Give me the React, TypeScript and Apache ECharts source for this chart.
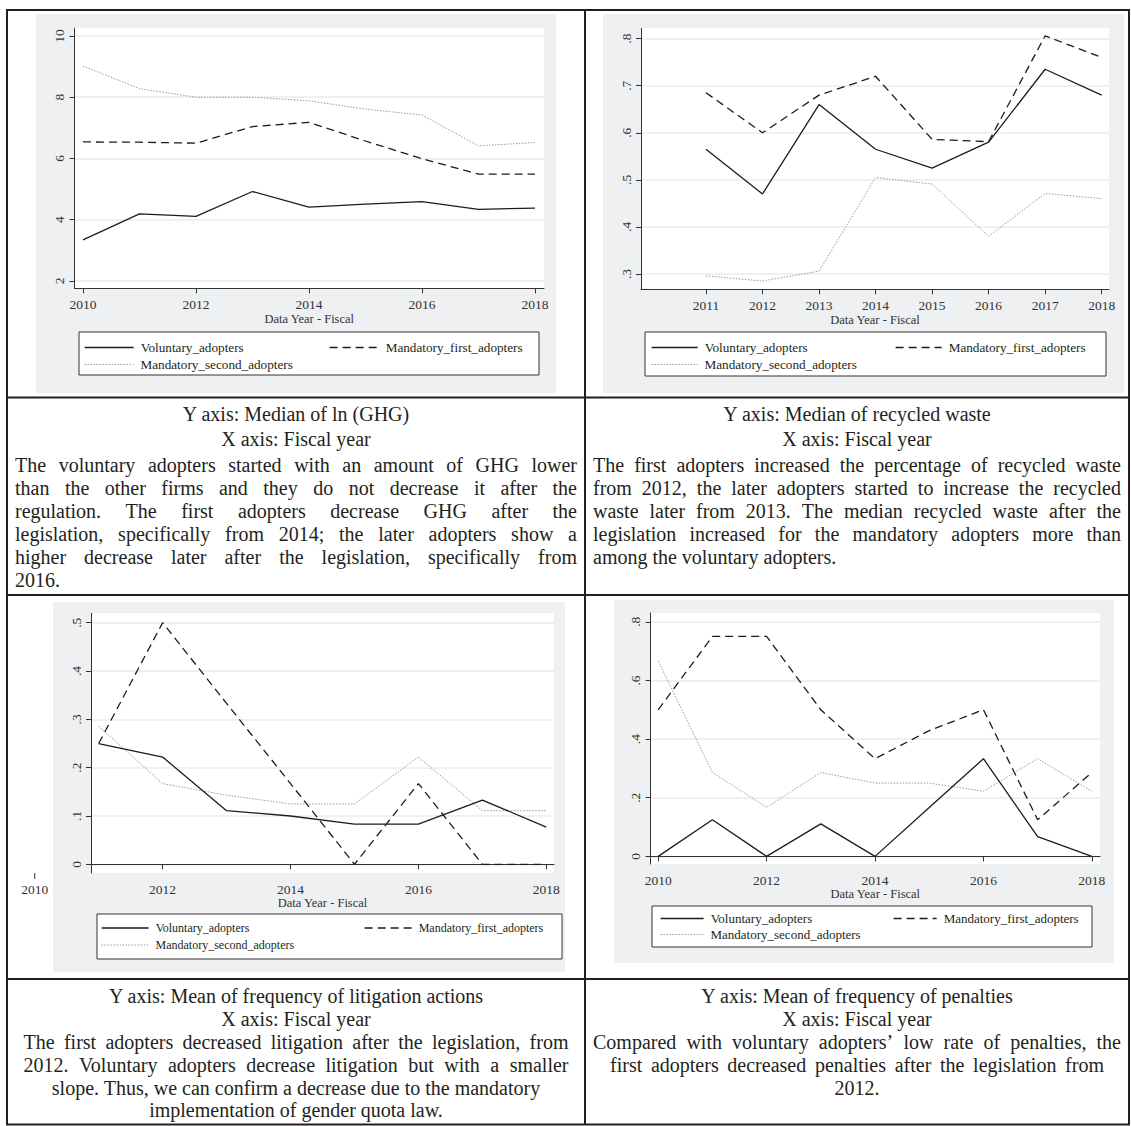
import React, { useEffect, useRef } from 'react';
import * as echarts from 'echarts';

// ---------- DATA ----------
const seriesNames = ['Voluntary_adopters', 'Mandatory_first_adopters', 'Mandatory_second_adopters'];
const xAxisTitle = 'Data Year - Fiscal';

// Panel 1: Median of ln (GHG)
const ghgYears = [2010, 2011, 2012, 2013, 2014, 2015, 2016, 2017, 2018];
const ghgVoluntary = [3.34, 4.19, 4.11, 4.92, 4.41, 4.51, 4.59, 4.34, 4.38];
const ghgFirst = [6.54, 6.53, 6.5, 7.04, 7.18, 6.57, 5.99, 5.49, 5.49];
const ghgSecond = [9.02, 8.28, 8.0, 8.0, 7.88, 7.61, 7.42, 6.41, 6.52];
const ghgYTicks = [2, 4, 6, 8, 10];
const ghgXTicks = [2010, 2012, 2014, 2016, 2018];

// Panel 2: Median of recycled waste
const wasteYears = [2011, 2012, 2013, 2014, 2015, 2016, 2017, 2018];
const wasteVoluntary = [0.565, 0.47, 0.66, 0.565, 0.525, 0.58, 0.735, 0.68];
const wasteFirst = [0.685, 0.6, 0.68, 0.72, 0.586, 0.581, 0.806, 0.76];
const wasteSecond = [0.296, 0.285, 0.306, 0.505, 0.491, 0.38, 0.471, 0.46];
const wasteYTicks = [0.3, 0.4, 0.5, 0.6, 0.7, 0.8];
const wasteXTicks = [2011, 2012, 2013, 2014, 2015, 2016, 2017, 2018];

// Panel 3: Mean of frequency of litigation actions
const litYears = [2011, 2012, 2013, 2014, 2015, 2016, 2017, 2018];
const litVoluntary = [0.25, 0.222, 0.111, 0.1, 0.083, 0.083, 0.133, 0.077];
const litFirst = [0.25, 0.5, 0.333, 0.167, 0, 0.167, 0, 0];
const litSecond = [0.286, 0.167, 0.143, 0.125, 0.125, 0.222, 0.111, 0.111];
const litYTicks = [0, 0.1, 0.2, 0.3, 0.4, 0.5];
const litXTicks = [2012, 2014, 2016, 2018];
const litStrayXLabel = 2010;

// Panel 4: Mean of frequency of penalties
const penYears = [2010, 2011, 2012, 2013, 2014, 2015, 2016, 2017, 2018];
const penVoluntary = [0, 0.125, 0, 0.111, 0, 0.167, 0.333, 0.067, 0];
const penFirst = [0.5, 0.75, 0.75, 0.5, 0.333, 0.429, 0.5, 0.125, 0.286];
const penSecond = [0.667, 0.286, 0.167, 0.286, 0.25, 0.25, 0.222, 0.333, 0.222];
const penYTicks = [0, 0.2, 0.4, 0.6, 0.8];
const penXTicks = [2010, 2012, 2014, 2016, 2018];

// Table texts
const ghgHeader = ['Y axis: Median of ln (GHG)', 'X axis: Fiscal year'];
const ghgText = [
  'The voluntary adopters started with an amount of GHG lower',
  'than the other firms and they do not decrease it after the',
  'regulation. The first adopters decrease GHG after the',
  'legislation, specifically from 2014; the later adopters show a',
  'higher decrease later after the legislation, specifically from',
  '2016.',
];
const wasteHeader = ['Y axis: Median of recycled waste', 'X axis: Fiscal year'];
const wasteText = [
  'The first adopters increased the percentage of recycled waste',
  'from 2012, the later adopters started to increase the recycled',
  'waste later from 2013. The median recycled waste after the',
  'legislation increased for the mandatory adopters more than',
  'among the voluntary adopters.',
];
const litHeader = ['Y axis: Mean of frequency of litigation actions', 'X axis: Fiscal year'];
const litText = [
  'The first adopters decreased litigation after the legislation, from',
  '2012. Voluntary adopters decrease litigation but with a smaller',
  'slope. Thus, we can confirm a decrease due to the mandatory',
  'implementation of gender quota law.',
];
const penHeader = ['Y axis: Mean of frequency of penalties', 'X axis: Fiscal year'];
const penText = [
  'Compared with voluntary adopters\u2019 low rate of penalties, the',
  'first adopters decreased penalties after the legislation from',
  '2012.',
];

// ---------- LAYOUT / STYLE ----------
const FAMILY = '"Liberation Serif", "Times New Roman", serif';
const INK = '#231f20';
const AXIS = '#333333';
const PANEL_BG = '#eef0f2';

const lineStyles: any[] = [
  { color: '#1c1c1c', width: 1.3, type: 'solid' },
  { color: '#1c1c1c', width: 1.3, type: [8, 5] },
  { color: '#9a9a9a', width: 1, type: [1.5, 1.5] },
];

const panels = [
  {
    years: ghgYears, values: [ghgVoluntary, ghgFirst, ghgSecond], xTicks: ghgXTicks, yTicks: ghgYTicks, intLabels: true,
    xMin: 2009.85, xMax: 2018.16, yMin: 1.76, yMax: 10.25,
    grid: { left: 74.5, top: 28.3, width: 469.5, height: 260 },
    bg: [36, 14, 520, 379],
    legend: { box: [79, 332, 460, 43], s1: 84, s2: 329, r1: 346, r2: 363, w: 49, fs: 13.2 },
    nameGap: 22.5,
  },
  {
    years: wasteYears, values: [wasteVoluntary, wasteFirst, wasteSecond], xTicks: wasteXTicks, yTicks: wasteYTicks, intLabels: false,
    xMin: 2009.85, xMax: 2018.13, yMin: 0.2674, yMax: 0.822,
    grid: { left: 641, top: 28.3, width: 468, height: 261 },
    bg: [603, 14, 521, 379],
    legend: { box: [645, 332, 461, 44], s1: 651, s2: 895, r1: 346, r2: 363, w: 46, fs: 13.2 },
    nameGap: 22.5,
  },
  {
    years: litYears, values: [litVoluntary, litFirst, litSecond], xTicks: litXTicks, yTicks: litYTicks, intLabels: false,
    xMin: 2010.88, xMax: 2018.12, yMin: -0.018, yMax: 0.5195,
    grid: { left: 91, top: 613.3, width: 463, height: 259.7 },
    bg: [53, 602, 512, 370],
    legend: { box: [97, 914, 465, 45], s1: 101, s2: 364, r1: 927, r2: 944, w: 47, fs: 12 },
    nameGap: 21.5,
  },
  {
    years: penYears, values: [penVoluntary, penFirst, penSecond], xTicks: penXTicks, yTicks: penYTicks, intLabels: false,
    xMin: 2009.86, xMax: 2018.15, yMin: -0.026, yMax: 0.83,
    grid: { left: 650.6, top: 613, width: 449.4, height: 251 },
    bg: [614, 600, 500, 363],
    legend: { box: [652, 906, 440, 41], s1: 660, s2: 893, r1: 917, r2: 933, w: 43, fs: 13 },
    nameGap: 21.5,
  },
];

const decimalLabel = (v: number) => {
  if (Math.abs(v) < 1e-9) return '0';
  const s = v.toFixed(1);
  return s.startsWith('0') ? s.slice(1) : s;
};

let measureCtx: CanvasRenderingContext2D | null = null;
function textWidth(s: string, size: number) {
  if (!measureCtx) measureCtx = document.createElement('canvas').getContext('2d');
  measureCtx!.font = `${size}px "Liberation Serif"`;
  return measureCtx!.measureText(s).width;
}

function textEl(text: string, x: number, y: number, size: number, align: string) {
  return {
    type: 'text',
    x,
    y,
    silent: true,
    z: 20,
    style: {
      text,
      font: `${size}px "Liberation Serif"`,
      fill: INK,
      textAlign: align,
      align,
      textVerticalAlign: 'middle',
      verticalAlign: 'middle',
    },
  };
}

// Spread the words of one line over [x0, x0 + width]
function justifiedLine(line: string, x0: number, width: number, y: number, size: number) {
  const words = line.split(' ');
  const widths = words.map((w) => textWidth(w, size));
  const total = widths.reduce((a, b) => a + b, 0);
  const gap = (width - total) / Math.max(1, words.length - 1);
  const els: any[] = [];
  let x = x0;
  words.forEach((w, k) => {
    els.push(textEl(w, x, y, size, 'left'));
    x += widths[k] + gap;
  });
  return els;
}

// Justified paragraph: every line but the last is stretched to full width
function justifiedParagraph(lines: string[], x0: number, width: number, yStart: number, lh: number, size: number) {
  const els: any[] = [];
  lines.forEach((line, i) => {
    const y = yStart + i * lh;
    if (i === lines.length - 1) els.push(textEl(line, x0, y, size, 'left'));
    else els.push(...justifiedLine(line, x0, width, y, size));
  });
  return els;
}

// Centred lines; a line given a spread width is stretched to that width around the centre
function centredLines(lines: string[], spread: (number | null)[], cx: number, ys: number[], size: number) {
  const els: any[] = [];
  lines.forEach((line, i) => {
    const y = ys[i];
    const w = spread[i];
    if (w && w > textWidth(line, size)) els.push(...justifiedLine(line, cx - w / 2, w, y, size));
    else els.push(textEl(line, cx, y, size, 'center'));
  });
  return els;
}

function buildOption() {
  const grid: any[] = [];
  const xAxis: any[] = [];
  const yAxis: any[] = [];
  const series: any[] = [];
  const legend: any[] = [];
  const graphic: any[] = [];

  panels.forEach((p, pi) => {
    grid.push({
      ...p.grid,
      show: true,
      backgroundColor: '#ffffff',
      borderWidth: 0,
      containLabel: false,
      outerBoundsMode: 'none',
    });
    xAxis.push({
      type: 'value',
      gridIndex: pi,
      min: p.xMin,
      max: p.xMax,
      axisLine: { show: true, lineStyle: { color: AXIS, width: 1 } },
      axisTick: { show: true, customValues: p.xTicks, length: 5, inside: false, lineStyle: { color: AXIS } },
      axisLabel: {
        customValues: p.xTicks,
        formatter: (v: number) => String(Math.round(v)),
        fontFamily: FAMILY,
        fontSize: 13.5,
        color: AXIS,
        margin: 9,
      },
      splitLine: { show: false },
      name: xAxisTitle,
      nameLocation: 'middle',
      nameGap: p.nameGap,
      nameTextStyle: { fontFamily: FAMILY, fontSize: 12.5, color: AXIS },
    });
    yAxis.push({
      type: 'value',
      gridIndex: pi,
      min: p.yMin,
      max: p.yMax,
      axisLine: { show: true, lineStyle: { color: AXIS, width: 1 } },
      axisTick: { show: true, customValues: p.yTicks, length: 5, inside: false, lineStyle: { color: AXIS } },
      axisLabel: {
        customValues: p.yTicks,
        rotate: 90,
        formatter: p.intLabels ? (v: number) => String(Math.round(v)) : decimalLabel,
        fontFamily: FAMILY,
        fontSize: 13.5,
        color: AXIS,
        margin: 8,
      },
      splitLine: { show: true, lineStyle: { color: '#ebebeb', width: 1.5 } },
    });
    p.values.forEach((vals, si) => {
      series.push({
        type: 'line',
        name: seriesNames[si],
        xAxisIndex: pi,
        yAxisIndex: pi,
        data: p.years.map((yr, k) => [yr, vals[k]]),
        symbol: 'none',
        showSymbol: false,
        silent: true,
        lineStyle: lineStyles[si],
        z: 5 - si,
      });
      const L = p.legend;
      legend.push({
        show: true,
        left: si === 1 ? L.s2 : L.s1,
        top: (si === 2 ? L.r2 : L.r1) - 5,
        padding: 0,
        itemWidth: L.w,
        itemHeight: 10,
        selectedMode: false,
        data: [seriesNames[si]],
        itemStyle: { opacity: 0 },
        lineStyle: { color: lineStyles[si].color, width: lineStyles[si].width, type: lineStyles[si].type },
        textStyle: { fontFamily: FAMILY, fontSize: L.fs, color: INK, padding: [0, 0, 0, 2] },
      });
    });
    graphic.push({
      type: 'rect',
      silent: true,
      z: -10,
      shape: { x: p.bg[0], y: p.bg[1], width: p.bg[2], height: p.bg[3] },
      style: { fill: PANEL_BG },
    });
    const b = p.legend.box;
    graphic.push({
      type: 'rect',
      silent: true,
      z: 1,
      shape: { x: b[0], y: b[1], width: b[2], height: b[3] },
      style: { fill: '#ffffff', stroke: '#333333', lineWidth: 1 },
    });
  });

  // Table borders
  const L = 7, R = 1129, T = 10, B = 1124.5, MID = 585;
  const hLines = [T, 397.5, 595, 979, B];
  hLines.forEach((y) => {
    graphic.push({ type: 'line', silent: true, z: 30, shape: { x1: L - 1, y1: y, x2: R + 1, y2: y }, style: { stroke: INK, lineWidth: 2 } });
  });
  [L, MID, R].forEach((x) => {
    graphic.push({ type: 'line', silent: true, z: 30, shape: { x1: x, y1: T, x2: x, y2: B }, style: { stroke: INK, lineWidth: 2 } });
  });

  // Table texts
  const FS = 20;
  const LH = 23;
  const leftCx = (L + MID) / 2;
  const rightCx = (MID + R) / 2;
  const row1Heads = [414, 439];
  const row2Lines = [996, 1019, 1042, 1065, 1088, 1110];
  graphic.push(...centredLines(ghgHeader, [null, null], leftCx, row1Heads, FS));
  graphic.push(...justifiedParagraph(ghgText, 15, 562, 465, LH, FS));
  graphic.push(...centredLines(wasteHeader, [null, null], rightCx, row1Heads, FS));
  graphic.push(...justifiedParagraph(wasteText, 593, 528, 465, LH, FS));
  graphic.push(...centredLines([...litHeader, ...litText], [null, null, 545, 545, null, null], leftCx, row2Lines, FS));
  graphic.push(...centredLines([...penHeader, ...penText], [null, null, 528, 494, null], rightCx, row2Lines, FS));

  graphic.forEach((g, i) => (g.id = 'g' + i));

  return {
    animation: false,
    backgroundColor: '#ffffff',
    textStyle: { fontFamily: FAMILY },
    grid,
    xAxis,
    yAxis,
    series,
    legend,
    graphic: { elements: graphic },
  };
}

export default function App() {
  const ref = useRef<HTMLDivElement>(null);
  useEffect(() => {
    if (!ref.current) return;
    const chart = echarts.init(ref.current, null, { renderer: 'svg' });
    chart.setOption(buildOption() as any);
    // Stray "2010" label drawn by the original software left of the litigation panel
    const p = chart.convertToPixel({ gridIndex: 2 }, [litStrayXLabel, panels[2].yMin]) as number[];
    if (p && isFinite(p[0])) {
      chart.setOption({
        graphic: {
          elements: [
            { id: 'stray-tick', type: 'line', silent: true, z: 20, shape: { x1: p[0], y1: p[1], x2: p[0], y2: p[1] + 6 }, style: { stroke: AXIS, lineWidth: 1 } },
            {
              id: 'stray-label', type: 'text', silent: true, z: 20, x: p[0], y: p[1] + 16,
              style: { text: String(litStrayXLabel), font: '13.5px "Liberation Serif"', fill: AXIS, textAlign: 'center', align: 'center', textVerticalAlign: 'middle', verticalAlign: 'middle' },
            },
          ],
        },
      } as any);
    }
    return () => chart.dispose();
  }, []);
  return <div ref={ref} style={{ position: 'absolute', left: 0, top: 0, width: 1131, height: 1126 }} />;
}
